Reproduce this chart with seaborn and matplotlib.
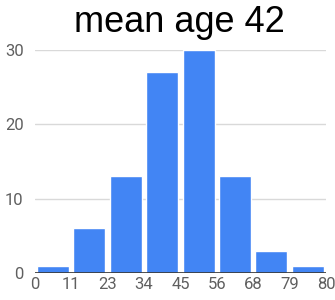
import matplotlib
matplotlib.use("Agg")
import matplotlib.pyplot as plt
import seaborn as sns
import pandas as pd

# histogram of ages
bin_edges = ["0", "11", "23", "34", "45", "56", "68", "79", "80"]
counts = [1, 6, 13, 27, 30, 13, 3, 1]
title = "mean age 42"

df = pd.DataFrame({"bin": list(range(len(counts))), "count": counts})

sns.set_style("white")
plt.rcParams["font.family"] = ["Roboto", "DejaVu Sans"]

fig = plt.figure(figsize=(3.35, 3.0), dpi=100)
ax = fig.add_axes([0.104, 0.09, 0.869, 0.743])

sns.barplot(data=df, x="bin", y="count", color="#4285f4", saturation=1,
            width=0.88, ax=ax, zorder=3)

ax.set_xlim(-0.5, len(counts) - 0.5)
ax.set_ylim(0, 30)
ax.set_xticks([i - 0.5 for i in range(len(bin_edges))])
ax.set_xticklabels(bin_edges)
ax.set_yticks([0, 10, 20, 30])
ax.yaxis.grid(True, color="#d9d9d9", linewidth=1, zorder=0)
ax.axhline(0, color="#333333", linewidth=1.2, zorder=4)
ax.tick_params(axis="both", length=0, labelsize=12, labelcolor="#5f5f5f")
ax.tick_params(axis="y", pad=8)
ax.tick_params(axis="x", pad=3)
for s in ax.spines.values():
    s.set_visible(False)
ax.set_xlabel("")
ax.set_ylabel("")

fig.text(0.535, 0.925, title, ha="center", va="center", fontsize=26,
         color="black", family=["Liberation Sans", "DejaVu Sans"])

fig.savefig("out.png", dpi=100)
